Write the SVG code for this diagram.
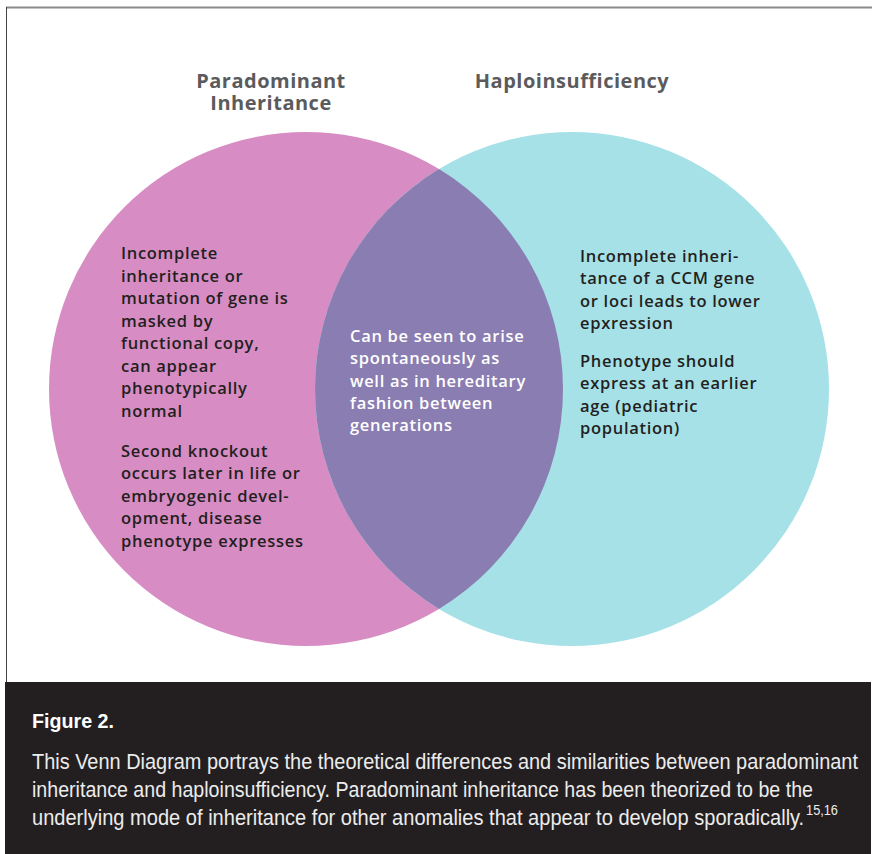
<svg xmlns="http://www.w3.org/2000/svg" width="872" height="854" viewBox="0 0 872 854">
<style>
.title{font-family:"Open Sans","Liberation Sans",sans-serif;font-weight:700;font-size:20px;letter-spacing:0.5px;fill:#5b5b5d;text-anchor:middle}
.body{font-family:"Open Sans","Liberation Sans",sans-serif;font-weight:600;font-size:16.5px;letter-spacing:0.7px;fill:#231f20}
.mid{fill:#ffffff}
.figt{font-family:"Liberation Sans",sans-serif;font-weight:700;font-size:21px;fill:#ffffff}
.cap{font-family:"Liberation Sans",sans-serif;font-size:22px;fill:#ececec}
</style>
<rect x="0" y="0" width="872" height="854" fill="#ffffff"/>
<line x1="6" y1="7.5" x2="872" y2="7.5" stroke="#8a8a8a" stroke-width="2"/>
<line x1="6.5" y1="7" x2="6.5" y2="682" stroke="#444" stroke-width="1"/>
<g id="left-set">
<circle cx="306" cy="389" r="257" fill="#d78dc4"/>
</g>
<g id="right-set">
<circle cx="572" cy="389" r="257" fill="#a6e1e8"/>
</g>
<g id="overlap">
<path d="M439 169.1 A257 257 0 0 1 439 608.9 A257 257 0 0 1 439 169.1 Z" fill="#8a7db1"/>
</g>
<g id="connectors"></g>
<g id="labels">
<text class="title" x="271" y="88">Paradominant<tspan x="271" dy="22">Inheritance</tspan></text>
<text class="title" x="572" y="88">Haploinsufficiency</text>
</g>
<g id="left-text">
<text class="body" x="121" y="259">Incomplete</text>
<text class="body" x="121" y="282">inheritance or</text>
<text class="body" x="121" y="304">mutation of gene is</text>
<text class="body" x="121" y="327">masked by</text>
<text class="body" x="121" y="349">functional copy,</text>
<text class="body" x="121" y="372">can appear</text>
<text class="body" x="121" y="394">phenotypically</text>
<text class="body" x="121" y="417">normal</text>
<text class="body" x="121" y="457">Second knockout</text>
<text class="body" x="121" y="479">occurs later in life or</text>
<text class="body" x="121" y="502">embryogenic devel-</text>
<text class="body" x="121" y="524">opment, disease</text>
<text class="body" x="121" y="547">phenotype expresses</text>
</g>
<g id="mid-text">
<text class="body mid" x="350" y="342">Can be seen to arise</text>
<text class="body mid" x="350" y="364">spontaneously as</text>
<text class="body mid" x="350" y="387">well as in hereditary</text>
<text class="body mid" x="350" y="409">fashion between</text>
<text class="body mid" x="350" y="431">generations</text>
</g>
<g id="right-text">
<text class="body" x="580" y="262">Incomplete inheri-</text>
<text class="body" x="580" y="284">tance of a CCM gene</text>
<text class="body" x="580" y="307">or loci leads to lower</text>
<text class="body" x="580" y="329">epxression</text>
<text class="body" x="580" y="367">Phenotype should</text>
<text class="body" x="580" y="389">express at an earlier</text>
<text class="body" x="580" y="412">age (pediatric</text>
<text class="body" x="580" y="434">population)</text>
</g>
<g id="caption">
<rect x="5" y="682" width="866" height="172" fill="#231f20"/>
<text class="figt" x="32" y="728" textLength="82" lengthAdjust="spacingAndGlyphs">Figure 2.</text>
<g transform="scale(0.82,1)">
<text class="cap" x="39.02" y="769" textLength="1007.3" lengthAdjust="spacingAndGlyphs">This Venn Diagram portrays the theoretical differences and similarities between paradominant</text>
<text class="cap" x="39.02" y="797" textLength="952.4" lengthAdjust="spacingAndGlyphs">inheritance and haploinsufficiency. Paradominant inheritance has been theorized to be the</text>
<text class="cap" x="39.02" y="825" textLength="982.9" lengthAdjust="spacingAndGlyphs">underlying mode of inheritance for other anomalies that appear to develop sporadically.<tspan font-size="14" dx="2" dy="-10">15,16</tspan></text>
</g>
</g>
</svg>
